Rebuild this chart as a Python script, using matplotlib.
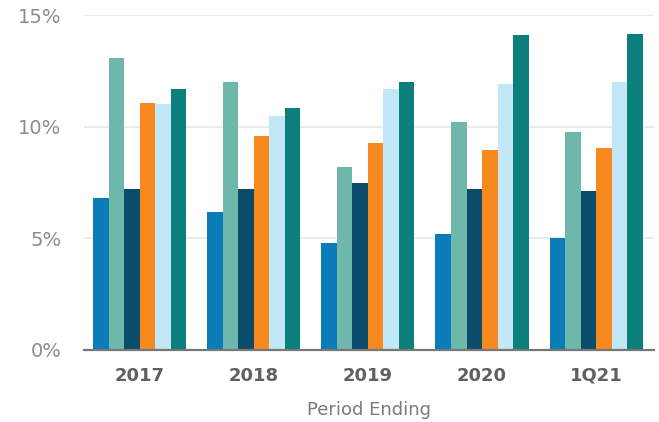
import numpy as np
import matplotlib.pyplot as plt
from matplotlib.ticker import FuncFormatter

periods = ['2017', '2018', '2019', '2020', '1Q21']

# one list per series, values in percent
series_1 = [6.8, 6.2, 4.8, 5.2, 5.0]
series_2 = [13.1, 12.0, 8.2, 10.2, 9.75]
series_3 = [7.2, 7.2, 7.5, 7.2, 7.1]
series_4 = [11.05, 9.6, 9.25, 8.95, 9.05]
series_5 = [11.0, 10.5, 11.7, 11.9, 12.0]
series_6 = [11.7, 10.85, 12.0, 14.1, 14.15]

colors = ['#0A7DB8', '#6DB8AB', '#0B4C6A', '#F7891E', '#C2E8F7', '#0B7F7C']


def main():
    plt.rcParams['font.family'] = ['DejaVu Sans']
    fig = plt.figure(figsize=(6.59, 4.22), dpi=100)
    ax = fig.add_axes([0.127, 0.171, 0.866, 0.793])

    all_series = [series_1, series_2, series_3, series_4, series_5, series_6]
    x = np.arange(len(periods))
    width = 0.136
    for i, (vals, c) in enumerate(zip(all_series, colors)):
        offset = (i - 2.5) * width
        ax.bar(x + offset, vals, width, color=c, zorder=3)

    ax.set_xlim(-0.49, 4.51)
    ax.set_ylim(0, 15)
    ax.set_yticks([0, 5, 10, 15])
    ax.yaxis.set_major_formatter(FuncFormatter(lambda v, p: f'{v:.0f}%'))
    ax.set_xticks(x)
    ax.set_xticklabels(periods, fontsize=13, color='#606060', fontweight='semibold')
    ax.tick_params(axis='y', labelsize=14, colors='#8c8c8c', length=0, pad=16)
    ax.tick_params(axis='x', length=0, pad=12)

    ax.grid(axis='y', color='#e8e8e8', linewidth=1.2, zorder=0)
    for side in ['top', 'right', 'left']:
        ax.spines[side].set_visible(False)
    ax.spines['bottom'].set_color('#777777')
    ax.spines['bottom'].set_linewidth(1.6)
    ax.spines['bottom'].set_zorder(4)

    ax.set_xlabel('Period Ending', fontsize=13, color='#7a7a7a', labelpad=12)

    fig.savefig('out.png', dpi=100)


if __name__ == "__main__":
    main()
